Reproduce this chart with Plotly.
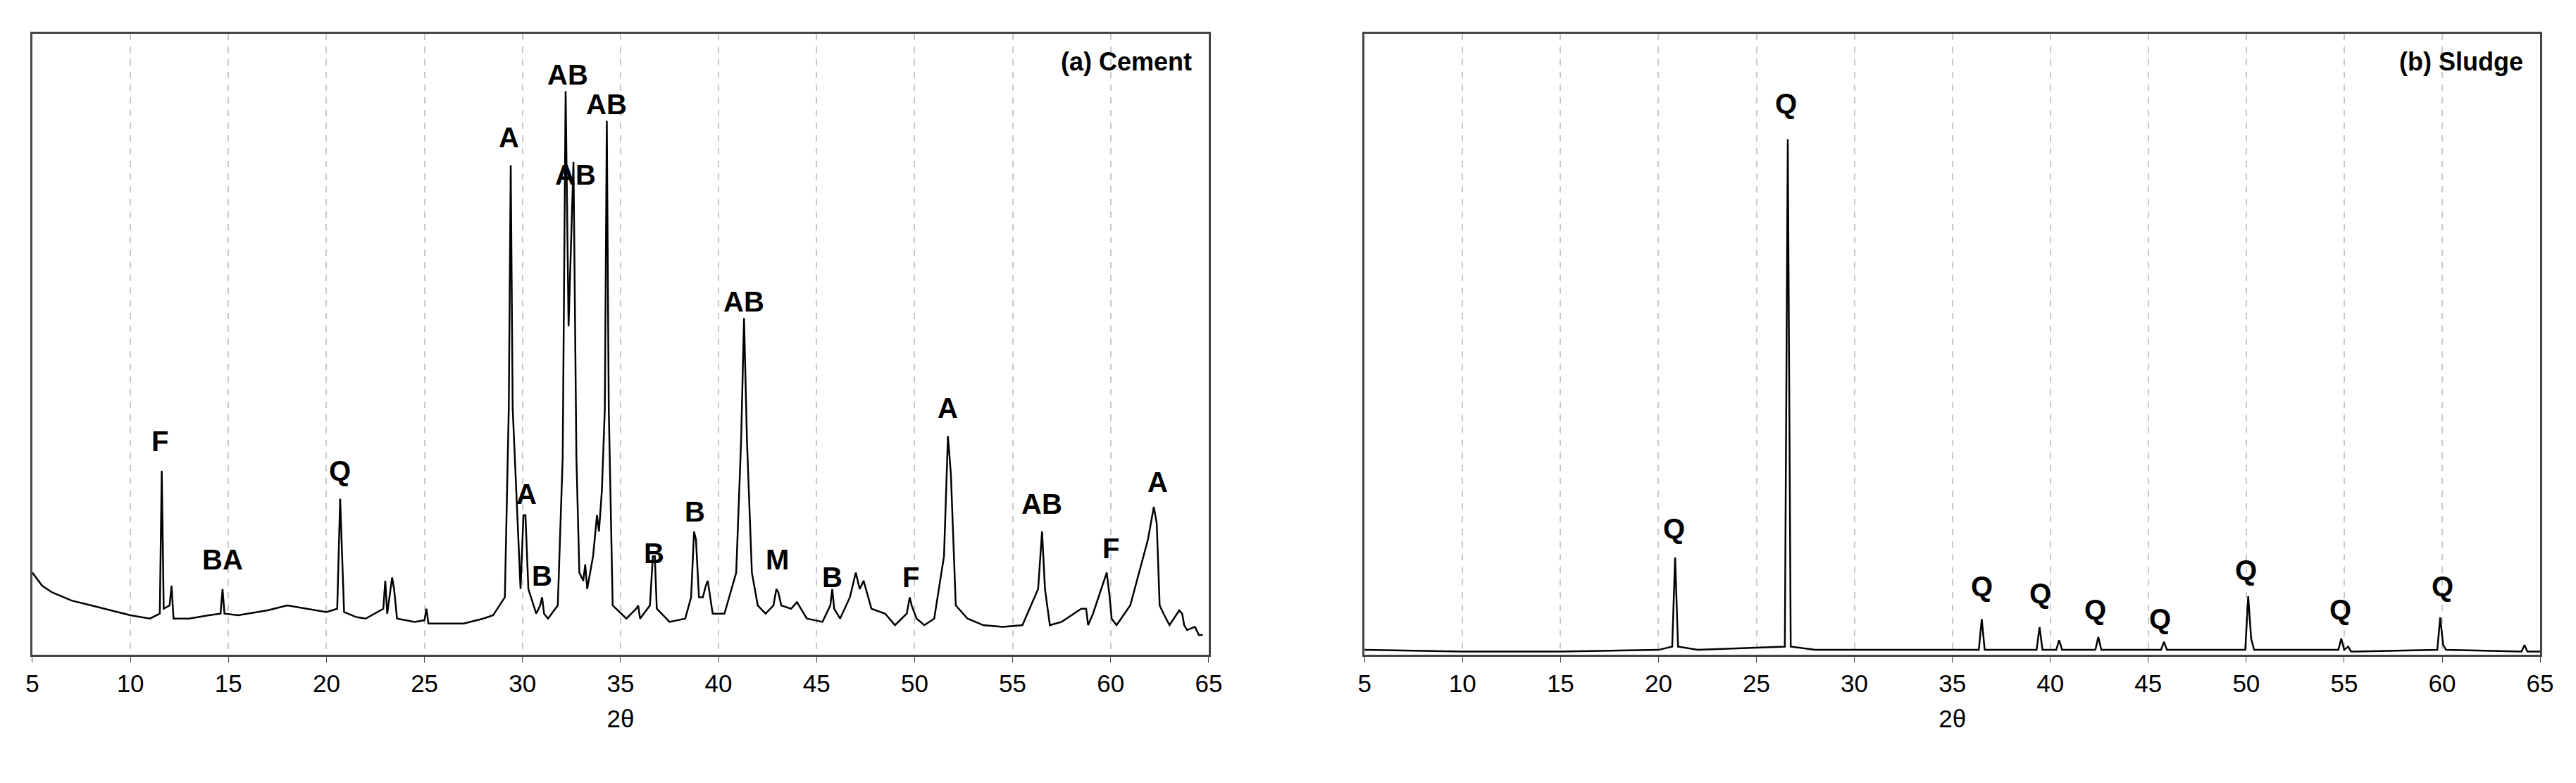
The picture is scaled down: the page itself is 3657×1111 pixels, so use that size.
import plotly.graph_objects as go

cement_2theta = [5,5.5,6,7,8,9,10,11,11.5,11.6,11.7,12.0,12.1,12.2,13,14,14.6,14.7,14.8,15.5,16,17,18,19,20,20.55,20.7,20.8,20.9,21.5,22,22.9,23.0,23.1,23.35,23.45,23.6,24.5,25,25.1,25.2,26,27,28,28.5,29.1,29.3,29.4,29.5,29.9,30.05,30.15,30.3,30.7,30.9,31.0,31.1,31.3,31.8,32.05,32.2,32.35,32.5,32.6,32.75,32.9,33.1,33.2,33.3,33.6,33.8,33.9,34.05,34.2,34.3,34.4,34.6,35.3,35.8,35.9,36.0,36.5,36.65,36.75,36.85,37.5,38.3,38.6,38.75,38.85,39.0,39.2,39.35,39.45,39.7,40.3,40.9,41.15,41.3,41.45,41.7,42.0,42.4,42.8,42.95,43.05,43.2,43.7,44.0,44.5,45.3,45.7,45.8,45.9,46.2,46.7,47.0,47.2,47.4,47.8,48.5,49,49.6,49.75,49.85,50.1,50.5,51.0,51.5,51.7,51.85,52.1,52.7,53.5,54.5,55.5,56.3,56.5,56.65,56.9,57.5,58.5,58.75,58.85,59.1,59.8,59.95,60.05,60.3,61,61.9,62.2,62.35,62.5,62.7,63.0,63.5,63.65,63.75,63.9,64.3,64.5,64.7,65]
cement_intensity = [50,42,38,33,30,27,24,22,25,112,28,30,42,22,22,24,25,40,25,24,25,27,30,28,26,28,95,60,26,23,22,28,45,25,47,40,22,20,21,28,19,19,19,22,24,35,150,298,150,40,85,85,40,25,30,35,25,22,30,120,343,200,260,300,120,50,45,55,40,60,85,75,100,150,325,150,30,22,28,30,22,30,60,60,28,20,22,35,75,70,35,35,42,45,25,25,50,130,205,130,50,30,25,30,40,38,30,28,32,22,20,30,40,28,22,35,50,40,45,28,25,18,25,35,30,22,18,22,60,133,110,30,22,18,17,18,40,75,40,18,20,28,28,18,25,50,35,22,18,30,70,90,80,30,25,18,27,25,18,15,17,12,12]

sludge_2theta = [5,10,15,20,20.7,20.85,21.0,22,26.45,26.6,26.75,28,36.35,36.5,36.65,39.3,39.45,39.6,40.3,40.45,40.6,42.3,42.45,42.6,45.65,45.8,45.95,49.95,50.1,50.25,50.4,54.7,54.85,55.0,55.2,55.35,55.6,59.75,59.9,60.05,60.2,64.05,64.2,64.35,65]
sludge_intensity = [3,2,2,3,5,60,5,3,5,318,5,3,3,22,3,3,17,3,3,9,3,3,11,3,3,8,3,3,36,10,3,3,10,3,5,2,2,3,23,6,3,2,6,2,2]

cement_label_x = [11.5,14.7,20.7,29.3,30.2,31.0,32.3,32.7,34.3,36.7,38.8,41.3,43.0,45.8,49.8,51.7,56.5,60.0,62.4]
cement_label_y = [130,58,112,315,98,48,353,292,335,62,87,215,58,47,47,150,92,65,105]
cement_label_text = ["F","BA","Q","A","A","B","AB","AB","AB","B","B","AB","M","B","F","A","AB","F","A"]

sludge_label_x = [20.8,26.5,36.5,39.5,42.3,45.6,50.0,54.8,60.0]
sludge_label_y = [78,340,42,38,28,22,52,28,42]
sludge_label_text = ["Q"]*9

ticks = list(range(5, 70, 5))
FONT = "Liberation Sans, Arial, sans-serif"

fig = go.Figure()
fig.add_trace(go.Scatter(x=cement_2theta, y=cement_intensity, mode="lines",
                         line=dict(color="black", width=2.5), xaxis="x", yaxis="y", showlegend=False))
fig.add_trace(go.Scatter(x=sludge_2theta, y=sludge_intensity, mode="lines",
                         line=dict(color="black", width=2.5), xaxis="x2", yaxis="y2", showlegend=False))

ann = []
for x, y, t in zip(cement_label_x, cement_label_y, cement_label_text):
    ann.append(dict(x=x, y=y, text="<b>" + t + "</b>", xref="x", yref="y", showarrow=False,
                    font=dict(family=FONT, size=40, color="black")))
for x, y, t in zip(sludge_label_x, sludge_label_y, sludge_label_text):
    ann.append(dict(x=x, y=y, text="<b>" + t + "</b>", xref="x2", yref="y2", showarrow=False,
                    font=dict(family=FONT, size=40, color="black")))
ann.append(dict(x=0.462, y=0.955, xref="paper", yref="paper", text="<b>(a) Cement</b>",
                showarrow=False, xanchor="right", yanchor="middle", font=dict(family=FONT, size=36, color="black")))
ann.append(dict(x=0.983, y=0.955, xref="paper", yref="paper", text="<b>(b) Sludge</b>",
                showarrow=False, xanchor="right", yanchor="middle", font=dict(family=FONT, size=36, color="black")))

xax = dict(range=[5, 65], tickvals=ticks, showgrid=True, gridcolor="#c8c8c8", griddash="dash", gridwidth=2,
           showline=True, linecolor="#444", linewidth=3, mirror=True, ticks="outside", ticklen=8,
           tickcolor="#444", tickfont=dict(family=FONT, size=35, color="black"),
           title=dict(text="2θ", font=dict(family=FONT, size=35, color="black"), standoff=20), zeroline=False)
yax = dict(showticklabels=False, showgrid=False, zeroline=False, showline=True, linecolor="#444",
           linewidth=3, mirror=True, ticks="")

fig.update_layout(
    width=3657, height=1111, plot_bgcolor="white", paper_bgcolor="white",
    margin=dict(l=0, r=0, t=40, b=190),
    xaxis=dict(domain=[0.0077, 0.468], **xax),
    yaxis=dict(range=[0, 378], anchor="x", **yax),
    xaxis2=dict(domain=[0.529, 0.989], anchor="y2", **xax),
    yaxis2=dict(range=[0, 383], anchor="x2", **yax),
    annotations=ann,
)
fig.write_html("out.html")
